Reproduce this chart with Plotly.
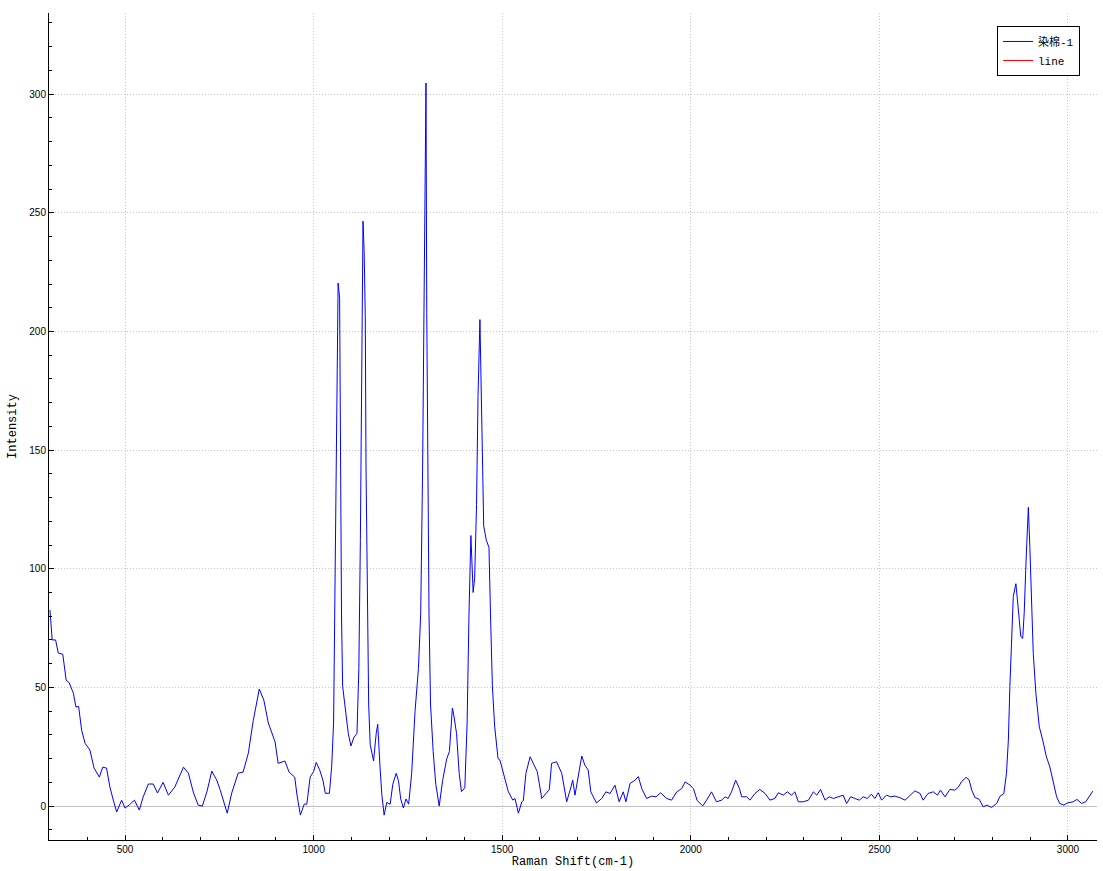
import plotly.graph_objects as go

raman_shift = [301, 307, 316, 323, 335, 344, 352, 363, 370, 377, 385, 394, 407, 418, 432, 441, 451, 460, 469, 478,
               491, 500, 511, 525, 538, 548, 562, 575, 586, 601, 615, 632, 655, 668, 681, 694, 705, 717, 730, 743,
               752, 761, 771, 783, 800, 813, 827, 840, 856, 868, 880, 898, 906, 924, 935, 950, 956, 965, 975, 982,
               991, 1000, 1007, 1016, 1025, 1031, 1042, 1048, 1053, 1057, 1062, 1065, 1069, 1071, 1074, 1077, 1084,
               1092, 1099, 1107, 1115, 1120, 1124, 1128, 1131, 1134, 1137, 1139, 1143, 1146, 1150, 1159, 1166, 1170,
               1176, 1181, 1187, 1194, 1203, 1210, 1219, 1225, 1231, 1238, 1245, 1252, 1260, 1269, 1278, 1284, 1289,
               1293, 1298, 1300, 1302, 1306, 1310, 1317, 1324, 1333, 1342, 1353, 1360, 1368, 1372, 1379, 1386, 1392,
               1401, 1407, 1412, 1417, 1423, 1427, 1432, 1436, 1441, 1443, 1448, 1451, 1458, 1465, 1469, 1474, 1480,
               1489, 1494, 1503, 1516, 1528, 1534, 1543, 1552, 1556, 1563, 1574, 1581, 1593, 1605, 1613, 1625, 1631,
               1644, 1658, 1671, 1680, 1687, 1693, 1702, 1711, 1719, 1728, 1735, 1750, 1764, 1775, 1786, 1799, 1810,
               1821, 1828, 1839, 1852, 1861, 1870, 1883, 1896, 1908, 1920, 1936, 1949, 1963, 1976, 1985, 1998, 2007,
               2017, 2032, 2042, 2055, 2068, 2082, 2091, 2099, 2108, 2119, 2129, 2135, 2148, 2157, 2170, 2183, 2197,
               2210, 2223, 2232, 2245, 2256, 2267, 2276, 2285, 2298, 2312, 2325, 2334, 2344, 2356, 2367, 2378, 2391,
               2404, 2413, 2424, 2435, 2447, 2457, 2468, 2479, 2488, 2497, 2506, 2519, 2530, 2541, 2555, 2568, 2581,
               2594, 2608, 2616, 2629, 2643, 2654, 2662, 2674, 2687, 2700, 2709, 2718, 2730, 2738, 2745, 2753, 2765,
               2775, 2786, 2797, 2811, 2820, 2830, 2837, 2842, 2846, 2851, 2855, 2862, 2868, 2875, 2880, 2884, 2889,
               2895, 2899, 2902, 2904, 2908, 2915, 2924, 2933, 2943, 2952, 2961, 2970, 2978, 2989, 3000, 3014, 3024,
               3036, 3047, 3066]

intensity = [82.6, 70, 70, 64.5, 64, 53, 52, 47.6, 41.7, 42, 32, 26.5, 23.6, 16, 12.2, 16.4, 16, 8, 2.5, -2.5,
             2.5, -0.8, 0.4, 2.5, -1.7, 3.8, 9.3, 9.3, 5.5, 10, 4.6, 8, 16.4, 13.9, 5.9, 0.4, 0, 5.9, 14.7, 11,
             7, 2.5, -3, 5.5, 13.9, 14.3, 22.3, 36, 49.3, 44.7, 35, 27, 18, 19, 14.3, 12.2, 4.6, -3.8, 0.8, 0.8,
             12.3, 14.5, 18.4, 15.3, 10.7, 5.4, 5.4, 16.8, 35, 96, 188, 220.4, 214, 142, 81, 50.5, 41,
             30.6, 25.3, 29, 30.6, 58, 112, 188, 246.5, 234, 206.7, 142.5, 81, 43, 26, 19, 30.6, 34.5,
             16.8, 4.6, -3.8, 1.5, 0.8, 9.2, 13.8, 10.7, 3, -0.8, 3, 0.8, 13.8, 40, 58, 81, 142,
             219, 304.7, 208, 150, 81, 43, 23, 9.2, 0, 10.7, 19.9, 23, 41.3, 38, 30.6, 13.8, 6.1,
             7.7, 35, 81, 114, 90, 96, 127, 173, 205, 188, 150, 118, 112, 109, 81, 50.5, 33.7,
             20, 19.4, 14, 6.2, 2.5, 3.2, -3, 1.8, 2.3, 13.8, 20.8, 18.7, 14.5, 3.2, 4.6, 7, 18,
             18.7, 13.8, 1.8, 6.7, 10.9, 4.6, 12.4, 21.1, 17.3, 15.2, 6, 1.3, 3.2, 6, 5.3, 8.8, 1.8,
             6, 1.8, 9.5, 10.9, 12.4, 7.4, 3.2, 4.2, 3.9, 5.6, 3.2, 2.5, 6, 7.4, 10.2, 8.8, 7.4,
             2.3, 0.1, 2.5, 6, 1.8, 2.5, 3.9, 3.2, 6, 10.9, 7.4, 3.9, 3.9, 2.5, 5.3, 7, 5.3,
             2.5, 3.2, 5.6, 4.6, 6, 4.6, 6, 1.8, 1.8, 2.5, 6, 4.6, 7, 2.5, 3.9, 3.2, 3.9,
             4.6, 1.1, 3.9, 3.2, 2.5, 3.9, 3.2, 5, 3.2, 5.6, 2.5, 4.6, 3.9, 4.2, 3.5, 2.5, 4.6,
             6.4, 5.3, 2.5, 5.3, 6, 4.6, 6.7, 3.9, 7, 6.7, 7.9, 10.3, 12.1, 11, 6.7, 3.7, 2.8,
             -0.3, 0.4, -0.6, 1.1, 4.2, 5.3, 13.8, 27.8, 50.3, 71.4, 88.3, 93.7, 82.7, 71.4, 70.7, 81.3, 103.7,
             125.9, 109, 95.2, 85.4, 64.3, 47.4, 33.4, 27.8, 20.7, 16.5, 10.3, 3.9, 1.1, 0.4, 1.4, 1.8, 2.8,
             1.1, 1.8, 6.3]

series_names = ["染棉-1", "line"]
x_ticks = [500, 1000, 1500, 2000, 2500, 3000]
y_ticks = [0, 50, 100, 150, 200, 250, 300]

mono = "Liberation Mono, 'Noto Sans CJK SC', monospace"
sans = "Liberation Sans, Arial, sans-serif"

fig = go.Figure()
fig.add_trace(go.Scatter(x=raman_shift, y=intensity, mode="lines", name=series_names[0],
                         line=dict(color="#0000ff", width=1)))
fig.add_trace(go.Scatter(x=[None], y=[None], mode="lines", name=series_names[1],
                         line=dict(color="#ff0000", width=1)))

axis_common = dict(
    showline=True, linecolor="black", linewidth=1, mirror=False, automargin=False,
    ticks="inside", ticklen=5, tickcolor="black", tickwidth=1,
    showgrid=True, gridcolor="#c4c4c4", griddash="1px,2px", gridwidth=1,
    tickfont=dict(family=sans, size=10, color="black"),
)

fig.update_layout(
    width=1103, height=871,
    margin=dict(l=49, r=6, t=13, b=31),
    paper_bgcolor="white", plot_bgcolor="white",
    xaxis=dict(axis_common, range=[298.5, 3077], tickvals=x_ticks, zeroline=False,
               minor=dict(dtick=100, tick0=0, ticks="inside", ticklen=3, tickcolor="black", showgrid=False),
               title=dict(text="Raman Shift(cm-1)", font=dict(family=mono, size=12, color="black"), standoff=0)),
    yaxis=dict(axis_common, range=[-14.3, 334.2], tickvals=y_ticks,
               zeroline=True, zerolinecolor="#c0c0c0", zerolinewidth=1,
               minor=dict(dtick=10, tick0=0, ticks="inside", ticklen=3, tickcolor="black", showgrid=False),
               title=dict(text="Intensity", font=dict(family=mono, size=12, color="black"), standoff=10)),
    legend=dict(x=0.9046, y=0.9843, xanchor="left", yanchor="top",
                bordercolor="black", borderwidth=1, bgcolor="white",
                font=dict(family=mono, size=11, color="black"),
                itemwidth=30, tracegroupgap=0),
    showlegend=True,
)

fig.write_html("out.html", config={"displayModeBar": False},
               post_script="document.body.style.margin='0';document.body.style.overflow='hidden';")
